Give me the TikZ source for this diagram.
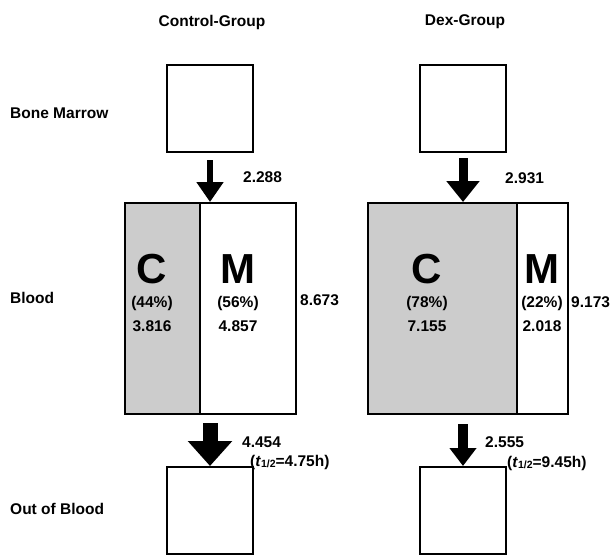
\documentclass[tikz,border=0pt]{standalone}
\usepackage{fontspec}
\setmainfont{Liberation Sans}
\usepackage{tikz}
\usetikzlibrary{arrows.meta}
\tikzstyle{compbox}=[rectangle, draw, line width=2pt, inner sep=0pt]
\tikzstyle{organ}=[compbox, minimum width=86pt, minimum height=87pt]
\tikzstyle{flux}=[line width=#1]
\tikzstyle{lbl}=[inner sep=0pt, font=\bfseries\fontsize{15.5}{17}\selectfont]
\tikzstyle{big}=[inner sep=0pt, font=\bfseries\fontsize{42}{42}\selectfont]
\newcommand{\compbox}{\node[compbox]}
\newcommand{\halflife}[1]{(\textit{t}\raisebox{-1.5pt}{\fontsize{10.5}{10}\selectfont 1/2}=#1h)}

\begin{document}
\begin{tikzpicture}[x=1pt, y=-1pt]
	\useasboundingbox (0,0) rectangle (613,555);
	%% the group titles and rows
	\node[lbl] (tctl) at (212,22) {Control-Group};
	\node[lbl] (tdex) at (465,22) {Dex-Group};
	\node[lbl, anchor=west] (rbm) at (10,113) {Bone Marrow};
	\node[lbl, anchor=west] (rbl) at (10,298) {Blood};
	\node[lbl, anchor=west] (rout) at (10,509) {Out of Blood};
	%% bone marrow and out of blood
	\node[organ] (cbm) at (210,108.5) {};
	\node[organ] (dbm) at (463,108.5) {};
	\node[organ] (cout) at (210,510.5) {};
	\node[organ] (dout) at (463,510.5) {};
	%% blood, control
	\compbox[fill=black!20, minimum width=75pt, minimum height=211pt] (cC) at (162.5,308.5) {};
	\compbox[minimum width=96pt, minimum height=211pt] (cM) at (248,308.5) {};
	%% blood, dex
	\compbox[fill=black!20, minimum width=149pt, minimum height=211pt] (dC) at (442.5,308.5) {};
	\compbox[minimum width=51pt, minimum height=211pt] (dM) at (542.5,308.5) {};
	%% compartment texts
	\node[big] (cCl) at (152,269) {C};
	\node[lbl] (cCp) at (152,303) {(44\%)};
	\node[lbl] (cCn) at (152,326) {3.816};
	\node[big] (cMl) at (238,269) {M};
	\node[lbl] (cMp) at (238,303) {(56\%)};
	\node[lbl] (cMn) at (238,326) {4.857};
	\node[big] (dCl) at (427,269) {C};
	\node[lbl] (dCp) at (427,303) {(78\%)};
	\node[lbl] (dCn) at (427,326) {7.155};
	\node[big] (dMl) at (542,269) {M};
	\node[lbl] (dMp) at (542,303) {(22\%)};
	\node[lbl] (dMn) at (542,326) {2.018};
	%% totals and fluxes
	\node[lbl, anchor=west] (ctot) at (300,300) {8.673};
	\node[lbl, anchor=west] (dtot) at (571,302) {9.173};
	\node[lbl, anchor=west] (cin) at (243,177) {2.288};
	\node[lbl, anchor=west] (din) at (505,178) {2.931};
	\node[lbl, anchor=west] (cel) at (242,442) {4.454};
	\node[lbl, anchor=west] (chl) at (250,462) {\halflife{4.75}};
	\node[lbl, anchor=west] (del) at (485,442) {2.555};
	\node[lbl, anchor=west] (dhl) at (507,463) {\halflife{9.45}};
	%% for the arrows
	\draw[flux=6.5pt, shorten <=7pt, -{Triangle[width=26pt,length=20pt]}]
		(cbm.south) -- (cbm.south |- cM.north);
	\draw[flux=9pt, shorten <=5pt, -{Triangle[width=32pt,length=21pt]}]
		(dbm.south) -- (dbm.south |- dC.north);
	\draw[flux=15pt, shorten <=8pt, -{Triangle[width=43pt,length=25pt]}]
		(cout.north |- cM.south) -- (cout.north);
	\draw[flux=10pt, shorten <=9pt, -{Triangle[width=26pt,length=18pt]}]
		(dout.north |- dC.south) -- (dout.north);
\end{tikzpicture}
\end{document}
